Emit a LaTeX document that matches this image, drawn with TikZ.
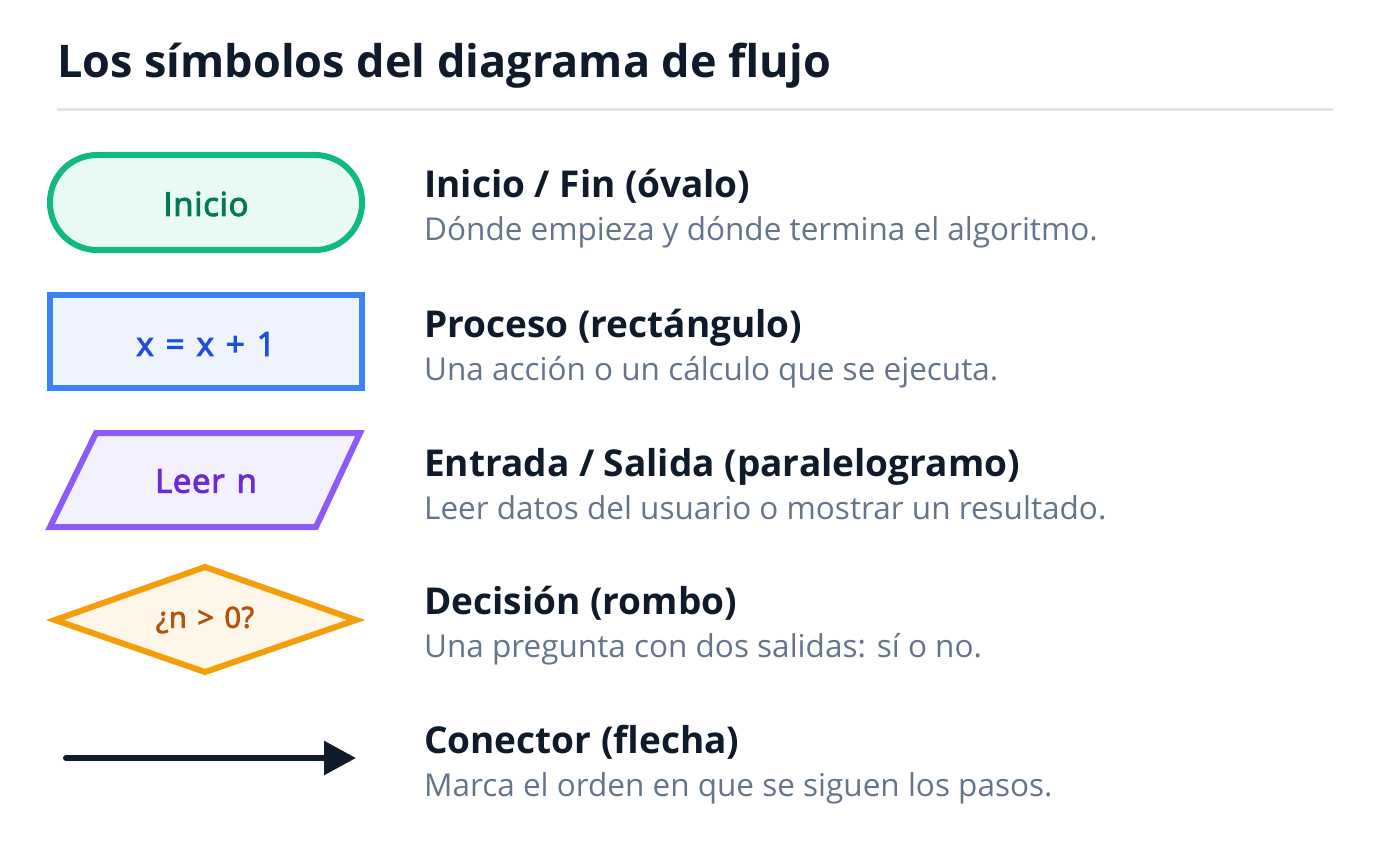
\documentclass[tikz,border=0pt]{standalone}
\usepackage{fontspec}
\setmainfont{Open Sans}
\newfontfamily\labelfont[FakeBold=3,LetterSpace=2,WordSpace=1.3]{Open Sans}
\usetikzlibrary{shapes.geometric,arrows.meta}
\definecolor{ink}{HTML}{0F1B2A}
\definecolor{muted}{HTML}{64748B}
\definecolor{rulec}{HTML}{E3E3DF}
\definecolor{gstroke}{HTML}{10B981}
\definecolor{gfill}{HTML}{E9F9F3}
\definecolor{gtext}{HTML}{047857}
\definecolor{bstroke}{HTML}{3B82F6}
\definecolor{bfill}{HTML}{EEF3FE}
\definecolor{btext}{HTML}{1D4ED8}
\definecolor{pstroke}{HTML}{8B5CF6}
\definecolor{pfill}{HTML}{F4F1FE}
\definecolor{ptext}{HTML}{6D28D9}
\definecolor{ostroke}{HTML}{F59E0B}
\definecolor{ofill}{HTML}{FEF7E9}
\definecolor{otext}{HTML}{B45309}
\tikzset{
  heading/.style={anchor=base west, inner sep=0pt, text=ink, font=\fontsize{37}{44}\selectfont\bfseries},
  desc/.style={anchor=base west, inner sep=0pt, text=muted, font=\fontsize{31.5}{38}\selectfont},
  shapelabel/.style={inner sep=0pt, font=\fontsize{33}{40}\selectfont\labelfont},
  symline/.style={line width=6pt, line join=miter},
}
\begin{document}
\begin{tikzpicture}[x=1pt,y=-1pt]
\useasboundingbox (0,0) rectangle (1389,850);
% title
\node[anchor=base west, inner sep=0pt, text=ink, font=\fontsize{45}{54}\selectfont\bfseries] (title) at (57,78) {Los símbolos del diagrama de flujo};
\draw[rulec, line width=3pt] (57,110) -- (1333,110);
% oval
\draw[symline, draw=gstroke, fill=gfill, rounded corners=47pt] (50,155) rectangle (362,250);
\node[shapelabel, text=gtext] (inicio) at (206,204) {Inicio};
% rectangle
\draw[symline, draw=bstroke, fill=bfill] (50,295) rectangle (362,388);
\node[shapelabel, text=btext] (proc) at (206,344) {x = x + 1};
% parallelogram
\draw[symline, draw=pstroke, fill=pfill] (96,433) -- (360,433) -- (316,527) -- (50,527) -- cycle;
\node[shapelabel, text=ptext] (io) at (206,481) {Leer n};
% diamond
\draw[symline, draw=ostroke, fill=ofill] (55,620) -- (205,567) -- (356,620) -- (205,672) -- cycle;
\node[shapelabel, text=otext, font=\fontsize{29}{35}\selectfont\labelfont] (dec) at (205,620) {¿n > 0?};
% arrow
\coordinate (a0) at (66,758);
\coordinate (a1) at (356,758);
\draw[ink, line width=6pt, line cap=round, -{Triangle[length=32pt,width=33pt]}] (a0) -- (a1);
% texts
\node[heading] (h1) at (424,198) {Inicio / Fin (óvalo)};
\node[desc] (d1) at (424,241) {Dónde empieza y dónde termina el algoritmo.};
\node[heading] (h2) at (424,337) {Proceso (rectángulo)};
\node[desc] (d2) at (424,380) {Una acción o un cálculo que se ejecuta.};
\node[heading] (h3) at (424,476) {Entrada / Salida (paralelogramo)};
\node[desc] (d3) at (424,519) {Leer datos del usuario o mostrar un resultado.};
\node[heading] (h4) at (424,614) {Decisión (rombo)};
\node[desc] (d4) at (424,657) {Una pregunta con dos salidas: sí o no.};
\node[heading] (h5) at (424,753) {Conector (flecha)};
\node[desc] (d5) at (424,796) {Marca el orden en que se siguen los pasos.};
\end{tikzpicture}
\end{document}
